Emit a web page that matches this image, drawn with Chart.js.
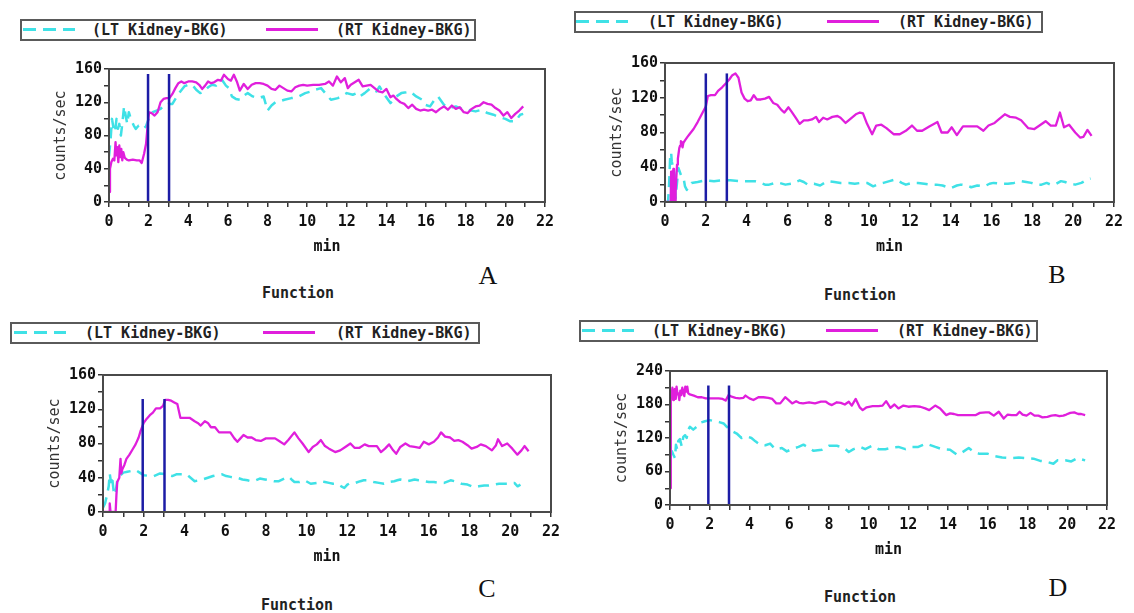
<!DOCTYPE html>
<html><head><meta charset="utf-8">
<script src="https://cdn.jsdelivr.net/npm/chart.js@4.4.0/dist/chart.umd.min.js"></script>
<style>
html,body{margin:0;padding:0;background:#fff;}
#root{position:relative;width:1134px;height:613px;overflow:hidden;background:#fff;}
canvas{position:absolute;}
.lg{position:absolute;border:2px solid #5a5a5a;box-sizing:border-box;height:22px;background:#fff;}
.lg .dash{position:absolute;top:7px;height:3px;width:52px;background:repeating-linear-gradient(to right,#3fe1e6 0 13px,transparent 13px 20px);}
.lg .solid{position:absolute;top:7px;height:3px;width:52px;background:#e01fdc;}
.lg span{position:absolute;top:0;font:bold 15px "DejaVu Sans Mono",monospace;color:#222;white-space:nowrap;line-height:18px;}
.tag{position:absolute;font:26px "Liberation Serif","Times New Roman",serif;color:#111;transform:translate(-50%,-50%);}
.fn{position:absolute;font:bold 15px "DejaVu Sans Mono",monospace;color:#222;transform:translate(-50%,-50%);white-space:nowrap;}
</style></head>
<body><div id="root"></div>
<script>
// ---------- DATA ----------
const xTickMax = 22;
const legendLabels = ['(LT Kidney-BKG)', '(RT Kidney-BKG)'];
const panelLetters = ['A', 'B', 'C', 'D'];
const subTitle = 'Function';

// Panel A
const A_rt_t = [0,0.05,0.12,0.2,0.27,0.33,0.37,0.42,0.47,0.52, 0.57,0.62,0.67,0.72,0.8,0.9,1.0,1.2,1.4,1.55, 1.65,1.77,1.87,1.95,2.02,2.15,2.3,2.45,2.6,2.75, 2.9,3.05,3.2,3.35,3.5,3.65,3.8,4.0,4.2,4.4, 4.55,4.7,4.85,5.0,5.15,5.3,5.5,5.65,5.8,6.0, 6.15,6.3,6.45,6.6,6.8,7.0,7.2,7.4,7.6,7.8, 8.0,8.2,8.4,8.6,8.8,9.0,9.2,9.4,9.6,9.8, 10.0,10.3,10.6,10.9,11.1,11.3,11.5,11.7,11.9,12.05, 12.2,12.4,12.6,12.8,13.0,13.2,13.4,13.6,13.8,14.0, 14.2,14.35,14.5,14.7,14.9,15.1,15.3,15.5,15.7,15.9, 16.1,16.3,16.5,16.7,16.9,17.1,17.3,17.5,17.7,17.9, 18.1,18.3,18.5,18.7,18.9,19.1,19.3,19.5,19.7,19.9, 20.1,20.3,20.5,20.7,20.9];
const A_rt_v = [12,40,48,52,50,72,56,66,48,68, 54,64,50,60,53,51,50,51,50,50, 47,58,70,92,108,107,104,108,120,124, 125,125,130,137,143,145,143,145,145,144, 141,136,140,145,143,144,147,146,153,148, 146,153,145,134,142,136,141,143,143,142, 140,136,135,140,137,134,133,138,140,141, 140,141,141,142,145,140,151,144,149,137, 141,144,147,139,140,141,137,133,132,136, 126,128,124,120,118,113,117,112,110,111, 110,111,108,112,115,111,116,112,114,108, 107,112,115,116,120,118,117,113,110,104, 108,101,106,110,115];
const A_lt_t = [0,0.08,0.15,0.22,0.3,0.38,0.45,0.52,0.6,0.68, 0.76,0.84,0.92,1.0,1.1,1.25,1.35,1.5,1.7,1.85, 2.0,2.2,2.4,2.6,2.8,3.0,3.2,3.4,3.6,3.8, 4.0,4.2,4.4,4.6,4.8,5.0,5.2,5.4,5.7,5.9, 6.05,6.2,6.4,6.6,6.8,7.0,7.25,7.5,7.8,8.0, 8.2,8.4,8.6,8.85,9.2,9.5,9.9,10.2,10.4,10.7, 11.05,11.2,11.55,11.8,12.0,12.3,12.5,12.65,12.9,13.2, 13.5,13.65,13.9,14.2,14.5,14.75,15.0,15.2,15.5,15.8, 15.95,16.2,16.4,16.6,16.9,17.2,17.5,17.8,18.1,18.5, 18.8,19.1,19.4,19.7,20.0,20.25,20.5,20.75,20.9];
const A_lt_v = [55,75,100,90,84,100,88,94,80,96, 115,104,94,108,100,92,88,92,94,90, 100,108,110,112,117,118,118,126,133,139, 141,141,135,131,133,138,141,140,147,140, 137,127,124,123,128,131,127,125,127,110, 116,120,121,123,125,126,131,133,135,137, 127,123,125,128,131,129,131,127,131,137, 133,139,129,119,127,131,132,133,127,123, 117,115,122,127,117,113,115,112,111,109, 111,107,105,102,100,97,97,105,106];
const A_mark_t = [1.97, 3.03];
const A_mark_top = 154;

// Panel B
const B_rt_t = [0,0.28,0.3,0.33,0.36,0.39,0.41,0.44,0.46,0.5, 0.52,0.56,0.59,0.63,0.66,0.7,0.74,0.78,0.82,0.86, 0.9,0.98,1.1,1.2,1.4,1.6,1.8,2.0,2.1,2.25, 2.45,2.6,2.8,3.0,3.15,3.3,3.45,3.6,3.75,3.9, 4.05,4.2,4.35,4.5,4.7,4.9,5.1,5.3,5.5,5.7, 5.85,6.05,6.2,6.4,6.6,6.8,7.0,7.2,7.4,7.55, 7.75,7.95,8.2,8.45,8.6,8.85,9.1,9.35,9.55,9.7, 9.9,10.15,10.35,10.6,10.85,11.2,11.5,11.8,12.1,12.35, 12.6,12.95,13.35,13.55,13.85,14.05,14.3,14.6,14.9,15.3, 15.6,15.85,16.15,16.35,16.65,16.9,17.2,17.45,17.8,18.1, 18.35,18.65,18.9,19.15,19.35,19.55,19.8,20.1,20.35,20.5, 20.7,20.9];
const B_rt_v = [0,0,35,10,0,30,38,5,0,0, 12,30,43,50,55,62,65,70,69,63, 68,71,75,78,84,92,101,110,122,123, 123,128,132,137,141,146,148,143,126,119, 116,117,123,118,118,119,121,114,112,106, 103,109,104,97,90,94,94,95,98,92, 97,95,98,99,97,91,96,101,103,102, 90,78,88,89,85,78,78,82,88,82, 82,87,92,80,80,86,77,87,87,87, 82,88,91,95,101,98,97,94,85,84, 88,93,88,88,103,86,89,80,74,75, 83,76];
const B_lt_t = [0,0.15,0.2,0.25,0.3,0.33,0.41,0.48,0.52,0.56, 0.66,0.78,0.9,0.98,1.07,1.15,1.3,1.6,2.0,2.4, 2.8,3.2,3.6,4.0,4.4,4.7,4.9,5.1,5.4,5.6, 5.9,6.2,6.6,6.8,7.0,7.3,7.6,7.95,8.3,8.6, 9.0,9.3,9.6,9.9,10.2,10.5,10.7,11.0,11.3,11.6, 11.8,12.1,12.4,12.7,13.0,13.3,13.6,13.85,14.0,14.3, 14.5,14.8,15.0,15.3,15.65,15.9,16.1,16.5,16.8,17.1, 17.45,17.7,17.95,18.2,18.45,18.7,18.9,19.1,19.4,19.6, 19.8,20.1,20.4,20.7,20.85];
const B_lt_v = [0,0,20,50,57,47,38,31,4,15, 39,31,29,18,14,18,22,23,25,24, 25,25,24,24,24,22,20,20,22,22, 20,21,25,23,20,21,19,24,23,22, 22,21,22,22,18,21,22,24,26,22, 20,22,22,21,20,20,19,17,16,19, 20,19,17,19,18,21,22,21,21,22, 24,23,22,20,20,22,20,20,24,23, 21,20,22,26,27];
const B_mark_t = [2.0, 3.03];
const B_mark_top = 148;

// Panel C
const C_rt_t = [0,0.3,0.33,0.37,0.62,0.66,0.7,0.8,0.86,0.9, 0.95,1.05,1.15,1.3,1.45,1.6,1.75,1.85,2.0,2.15, 2.3,2.45,2.6,2.8,2.95,3.05,3.2,3.35,3.5,3.65, 3.8,4.0,4.25,4.5,4.65,4.8,5.0,5.15,5.3,5.5, 5.7,6.0,6.25,6.45,6.6,6.75,6.9,7.1,7.3,7.5, 7.75,8.0,8.2,8.45,8.65,8.9,9.1,9.4,9.6,9.8, 10.1,10.3,10.5,10.7,10.9,11.1,11.4,11.65,11.9,12.15, 12.35,12.6,12.85,13.05,13.3,13.45,13.65,13.85,14.05,14.25, 14.4,14.6,14.85,15.05,15.3,15.55,15.75,16.0,16.25,16.45, 16.6,16.8,17.05,17.25,17.45,17.65,17.9,18.1,18.35,18.55, 18.8,19.1,19.3,19.4,19.6,19.85,20.1,20.35,20.55,20.7, 20.9];
const C_rt_v = [0,0,10,0,0,20,35,40,62,45, 50,55,62,67,73,79,87,95,104,109, 113,116,121,121,124,131,131,130,128,126, 110,110,110,106,104,101,106,104,99,99, 93,93,93,86,82,86,90,87,87,84, 83,86,86,86,83,79,84,93,86,80, 70,76,79,84,77,74,70,72,76,80, 75,75,79,77,77,77,70,74,79,72, 68,76,80,77,76,75,82,79,82,87, 93,88,87,83,84,82,78,74,76,79, 77,72,78,85,77,80,74,67,72,77, 71];
const C_lt_t = [0,0.1,0.2,0.28,0.33,0.39,0.44,0.52,0.6,0.69, 0.82,1.0,1.2,1.4,1.6,1.8,2.0,2.3,2.5,2.8, 3.1,3.4,3.6,3.85,4.1,4.3,4.5,4.7,4.9,5.15, 5.4,5.6,5.85,6.05,6.26,6.45,6.6,6.85,7.1,7.25, 7.5,7.7,7.95,8.2,8.4,8.64,8.9,9.13,9.3,9.4, 9.65,9.9,10.2,10.5,10.7,10.9,11.1,11.3,11.5,11.7, 11.85,12.0,12.16,12.4,12.64,12.8,12.97,13.15,13.3,13.55, 13.8,14.05,14.3,14.45,14.6,14.8,14.95,15.15,15.3,15.5, 15.77,16.0,16.25,16.5,16.75,17.07,17.25,17.4,17.6,17.9, 18.1,18.23,18.45,18.72,18.95,19.2,19.45,19.7,19.95,20.2, 20.36,20.5];
const C_lt_v = [5,10,20,30,45,35,42,25,20,35, 42,46,47,48,49,46,43,42,42,45, 44,42,44,44,44,40,36,37,38,40, 42,43,44,42,41,40,40,38,37,36, 37,39,38,37,36,36,39,41,37,35, 35,37,33,34,36,35,34,33,33,30, 28,32,34,34,36,37,37,36,35,34, 33,35,36,37,38,37,36,37,38,37, 36,35,35,34,34,37,36,35,33,32, 30,29,30,31,31,32,33,33,33,34, 30,32];
const C_mark_t = [1.95, 3.02];
const C_mark_top = 132;

// Panel D
const D_rt_t = [0,0.03,0.05,0.08,0.12,0.16,0.2,0.25,0.29,0.33, 0.38,0.42,0.47,0.52,0.57,0.62,0.67,0.72,0.77,0.82, 0.87,0.92,1.0,1.2,1.4,1.6,1.8,2.0,2.2,2.45, 2.65,2.8,2.95,3.1,3.3,3.5,3.7,3.8,4.0,4.2, 4.45,4.7,4.95,5.15,5.35,5.55,5.8,6.0,6.15,6.35, 6.5,6.7,7.0,7.3,7.6,7.85,8.0,8.15,8.4,8.6, 8.8,9.0,9.15,9.35,9.55,9.7,9.9,10.2,10.5,10.7, 10.88,11.1,11.3,11.5,11.75,12.0,12.3,12.6,12.85,13.05, 13.35,13.6,13.8,13.9,14.1,14.3,14.5,14.8,15.1,15.4, 15.6,15.9,16.05,16.3,16.55,16.8,17.0,17.2,17.45,17.6, 17.75,17.95,18.15,18.35,18.55,18.75,19.0,19.2,19.4,19.6, 19.8,19.95,20.15,20.35,20.55,20.7,20.9];
const D_rt_v = [30,120,200,195,210,188,205,208,190,212, 198,200,188,205,197,210,203,195,212,203, 212,200,198,196,193,193,191,191,191,191, 190,187,197,194,192,191,192,196,191,188, 193,193,192,190,182,182,193,187,182,186, 183,182,184,182,185,185,181,179,184,183, 180,185,178,190,175,170,175,177,177,178, 186,174,180,173,178,176,177,176,173,170, 178,173,165,161,164,163,161,161,161,161, 165,166,166,160,167,155,162,161,161,167, 162,160,165,160,160,157,158,160,161,159, 160,162,165,166,163,163,161];
const D_lt_t = [0,0.1,0.17,0.25,0.3,0.36,0.42,0.5,0.59,0.67, 0.76,0.84,0.92,1.0,1.17,1.34,1.5,1.76,2.0,2.27, 2.52,2.7,2.86,3.1,3.36,3.6,3.86,4.1,4.3,4.54, 4.8,5.04,5.3,5.63,5.88,6.13,6.47,6.72,6.97,7.23, 7.65,8.0,8.4,8.74,9.0,9.24,9.58,9.83,10.17,10.5, 10.84,11.18,11.5,11.85,12.18,12.5,12.9,13.36,13.7,14.1, 14.45,14.7,15.04,15.3,15.55,15.97,16.3,16.72,17.14,17.56, 17.9,18.3,18.64,18.9,19.3,19.5,19.9,20.2,20.5,20.9];
const D_lt_v = [90,96,90,84,108,100,115,118,105,122, 125,120,135,140,135,140,147,150,152,150, 148,146,140,133,128,120,123,120,114,108, 107,110,100,102,96,100,104,108,103,97, 99,106,106,103,95,100,104,100,106,100, 100,103,104,100,104,104,110,104,100,99, 90,94,102,95,92,92,88,85,84,85, 84,83,79,78,74,80,80,78,84,80];
const D_mark_t = [1.93, 2.97];
const D_mark_top = 214;

// y-axis tick settings per panel
const yMaxes = [160, 160, 160, 240];
const yTickSteps = [20, 20, 20, 30];
const yLabelSteps = [40, 40, 40, 60];

// ---------- LAYOUT (pixels) ----------
const root = document.getElementById('root');
const plotBoxes = [[109,69,545,202],[665,63,1114,202],[103,375,551,512],[670,371,1107,505]];
const legendBoxes = [[20,19,456,1,70,244,314],[574,11,469,0,72,251,322],[10,322,470,2,73,251,324],[579,320,459,1,71,245,316]];
const letterPos = [[488,276],[1057,275],[487,589],[1058,588]];
const fnPos = [[298,293],[860,295],[297,605],[860,597]];

const CYAN = '#3fe1e6', MAGENTA = '#e01fdc', NAVY = '#1c1ca6', AXIS = '#4a4a4a';
const MONO = '"DejaVu Sans Mono", monospace';

const framePlugin = {
  id: 'frame',
  afterDatasetsDraw(chart) {
    const {ctx, chartArea: {left, top, right, bottom}} = chart;
    ctx.save();
    ctx.strokeStyle = AXIS; ctx.lineWidth = 2;
    ctx.strokeRect(left, top, right - left, bottom - top);
    ctx.restore();
  }
};

function zip(t, v) { return t.map((x, i) => ({x: x, y: v[i]})); }

function makePanel(i, rtT, rtV, ltT, ltV, mk, mkTop) {
  const [L, T, R, B] = plotBoxes[i];
  const cv = document.createElement('canvas');
  const cw = R - L + 90, ch = B - T + 68;
  cv.width = cw; cv.height = ch;
  cv.style.width = cw + 'px'; cv.style.height = ch + 'px';
  cv.style.left = (L - 70) + 'px'; cv.style.top = (T - 12) + 'px';
  root.appendChild(cv);

  const datasets = mk.map(m => ({
    data: [{x: m, y: 0}, {x: m, y: mkTop}],
    borderColor: NAVY, borderWidth: 2.5, pointRadius: 0
  }));
  datasets.push({data: zip(rtT, rtV), borderColor: MAGENTA, borderWidth: 2.3, pointRadius: 0});
  datasets.push({data: zip(ltT, ltV), borderColor: CYAN, borderWidth: 2.5, borderDash: [11, 7], pointRadius: 0});

  const tickFont = {family: MONO, size: 15, weight: 'bold'};
  new Chart(cv, {
    type: 'line',
    data: {datasets},
    options: {
      responsive: false, animation: false, events: [],
      layout: {padding: {left: 13, top: 12, right: 20, bottom: 2}},
      plugins: {legend: {display: false}, tooltip: {enabled: false}},
      elements: {line: {tension: 0, borderCapStyle: 'butt', borderJoinStyle: 'round'}},
      scales: {
        x: {
          type: 'linear', min: 0, max: xTickMax,
          afterFit: s => { s.height = 54; },
          border: {display: true, color: AXIS, width: 2},
          grid: {drawOnChartArea: false, drawTicks: true, tickLength: 5, color: '#333', lineWidth: 1.5},
          ticks: {stepSize: 1, autoSkip: false, maxRotation: 0, padding: 6, color: '#111', font: tickFont,
                  callback: v => (v % 2 === 0 ? String(v) : '')},
          title: {display: true, text: 'min', color: '#111', font: tickFont, padding: {top: 0, bottom: 0}}
        },
        y: {
          type: 'linear', min: 0, max: yMaxes[i],
          afterFit: s => { s.width = 57; },
          border: {display: true, color: AXIS, width: 2},
          grid: {drawOnChartArea: false, drawTicks: true, tickLength: 5, color: '#333', lineWidth: 1.5},
          ticks: {stepSize: yTickSteps[i], autoSkip: false, padding: 2, color: '#111', font: tickFont,
                  callback: v => (v % yLabelSteps[i] === 0 ? String(v) : '')},
          title: {display: true, text: 'counts/sec', color: '#333', font: {family: MONO, size: 15, weight: 'normal'}, padding: {top: 0, bottom: 0}}
        }
      }
    },
    plugins: [framePlugin]
  });

  // legend
  const [lx, ly, lw, dL, t1L, sL, t2L] = legendBoxes[i];
  const lg = document.createElement('div');
  lg.className = 'lg';
  lg.style.left = lx + 'px'; lg.style.top = ly + 'px'; lg.style.width = lw + 'px';
  lg.innerHTML = '<div class="dash" style="left:' + dL + 'px"></div>' +
                 '<span style="left:' + t1L + 'px">' + legendLabels[0] + '</span>' +
                 '<div class="solid" style="left:' + sL + 'px"></div>' +
                 '<span style="left:' + t2L + 'px">' + legendLabels[1] + '</span>';
  root.appendChild(lg);

  const tag = document.createElement('div');
  tag.className = 'tag'; tag.textContent = panelLetters[i];
  tag.style.left = letterPos[i][0] + 'px'; tag.style.top = letterPos[i][1] + 'px';
  root.appendChild(tag);

  const fn = document.createElement('div');
  fn.className = 'fn'; fn.textContent = subTitle;
  fn.style.left = fnPos[i][0] + 'px'; fn.style.top = fnPos[i][1] + 'px';
  root.appendChild(fn);
}

makePanel(0, A_rt_t, A_rt_v, A_lt_t, A_lt_v, A_mark_t, A_mark_top);
makePanel(1, B_rt_t, B_rt_v, B_lt_t, B_lt_v, B_mark_t, B_mark_top);
makePanel(2, C_rt_t, C_rt_v, C_lt_t, C_lt_v, C_mark_t, C_mark_top);
makePanel(3, D_rt_t, D_rt_v, D_lt_t, D_lt_v, D_mark_t, D_mark_top);
</script>
</body></html>
